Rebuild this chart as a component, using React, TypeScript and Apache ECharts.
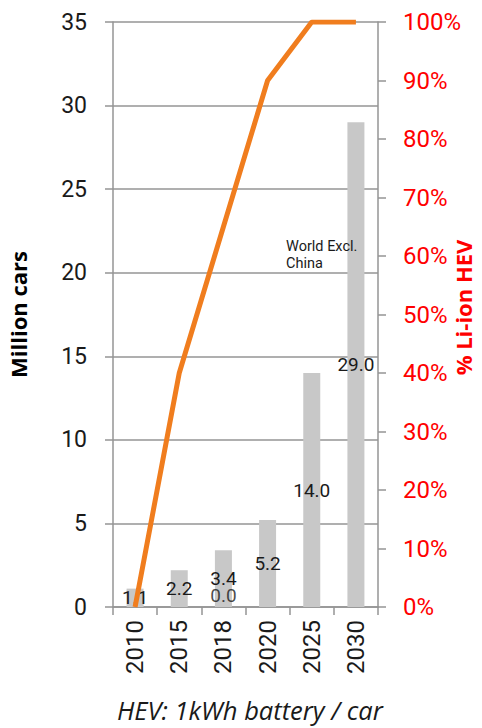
import React, { useEffect, useRef } from "react";
import * as echarts from "echarts";

const years = ["2010", "2015", "2018", "2020", "2025", "2030"];
const hevMillions = [1.1, 2.2, 3.4, 5.2, 14.0, 29.0];
const worldExclChina = [null, null, 0.0, null, null, null];
const liIonShare = [0, 0.4, 0.65, 0.9, 1.0, 1.0];
const leftTicks = { min: 0, max: 35, interval: 5 };
const rightTicks = { min: 0, max: 1, interval: 0.1 };

const FONT = "Roboto";
const GRID_COLOR = "#949494";

export default function App() {
  const ref = useRef<HTMLDivElement>(null);
  useEffect(() => {
    if (!ref.current) return;
    const chart = echarts.init(ref.current, undefined, { renderer: "svg" });
    chart.setOption({
      animation: false,
      backgroundColor: "#ffffff",
      textStyle: { fontFamily: FONT },
      grid: {
        left: 113,
        right: 104,
        top: 22,
        bottom: 121,
        containLabel: false,
        outerBoundsMode: "none",
      },
      xAxis: {
        type: "category",
        data: years,
        axisLine: { show: true, lineStyle: { color: GRID_COLOR, width: 1.5 } },
        axisTick: { show: true, length: 8, alignWithLabel: false, lineStyle: { color: GRID_COLOR, width: 1.5 } },
        axisLabel: { rotate: 90, margin: 13, fontSize: 24, color: "#1a1a1a", fontFamily: FONT },
      },
      yAxis: [
        {
          type: "value",
          min: leftTicks.min,
          max: leftTicks.max,
          interval: leftTicks.interval,
          name: "Million cars",
          nameLocation: "middle",
          nameGap: 84,
          nameMoveOverlap: false,
          nameTextStyle: { fontSize: 22, fontWeight: "bold", color: "#000", fontFamily: "Open Sans" },
          axisLine: { show: true, lineStyle: { color: GRID_COLOR, width: 1.5 } },
          axisTick: { show: true, length: 8, inside: false, lineStyle: { color: GRID_COLOR, width: 1.5 } },
          axisLabel: { margin: 26, fontSize: 23, color: "#1a1a1a", fontFamily: FONT },
          splitLine: { show: true, lineStyle: { color: GRID_COLOR, width: 1.5 } },
        },
        {
          type: "value",
          min: rightTicks.min,
          max: rightTicks.max,
          interval: rightTicks.interval,
          position: "right",
          name: "% Li-ion HEV",
          nameLocation: "middle",
          nameGap: 74,
          nameRotate: 90,
          nameMoveOverlap: false,
          nameTextStyle: { fontSize: 22, fontWeight: "bold", color: "#ff0000", fontFamily: "Open Sans", padding: [0, 0, 0, 14] },
          axisLine: { show: true, lineStyle: { color: GRID_COLOR, width: 1.5 } },
          axisTick: { show: true, length: 8, lineStyle: { color: GRID_COLOR, width: 1.5 } },
          axisLabel: {
            margin: 25,
            fontSize: 24,
            color: "#ff0000",
            fontFamily: FONT,
            formatter: (v: number) => Math.round(v * 100) + "%",
          },
          splitLine: { show: false },
        },
      ],
      series: [
        {
          name: "HEV",
          type: "bar",
          data: hevMillions,
          barWidth: 17,
          itemStyle: { color: "#c8c8c8" },
          label: {
            show: true,
            position: "inside",
            fontSize: 19,
            color: "#1a1a1a",
            fontFamily: FONT,
            formatter: (p: any) => Number(p.value).toFixed(1),
          },
          z: 2,
        },
        {
          name: "World Excl. China",
          type: "scatter",
          data: worldExclChina,
          symbolSize: 0,
          label: {
            show: true,
            position: "top",
            distance: 2,
            fontSize: 19,
            color: "#1a1a1a",
            fontFamily: FONT,
            formatter: (p: any) => Number(p.value).toFixed(1),
          },
          z: 4,
        },
        {
          name: "% Li-ion HEV",
          type: "line",
          yAxisIndex: 1,
          data: liIonShare,
          symbol: "none",
          lineStyle: { color: "#f07d1e", width: 5 },
          itemStyle: { color: "#f07d1e" },
          z: 3,
        },
      ],
      graphic: [
        {
          type: "text",
          left: 286,
          top: 238,
          z: 100,
          style: {
            text: "World Excl.\nChina",
            fontSize: 14.5,
            lineHeight: 17,
            fill: "#1a1a1a",
            fontFamily: FONT,
          },
        },
        {
          type: "text",
          left: 117,
          top: 697,
          z: 100,
          style: {
            text: "HEV: 1kWh battery / car",
            fontSize: 25.5,
            fontStyle: "italic",
            fill: "#1a1a1a",
            fontFamily: "Open Sans",
          },
        },
      ],
    });
    return () => chart.dispose();
  }, []);
  return <div ref={ref} style={{ width: 482, height: 728, position: "absolute", left: 0, top: 0 }} />;
}
